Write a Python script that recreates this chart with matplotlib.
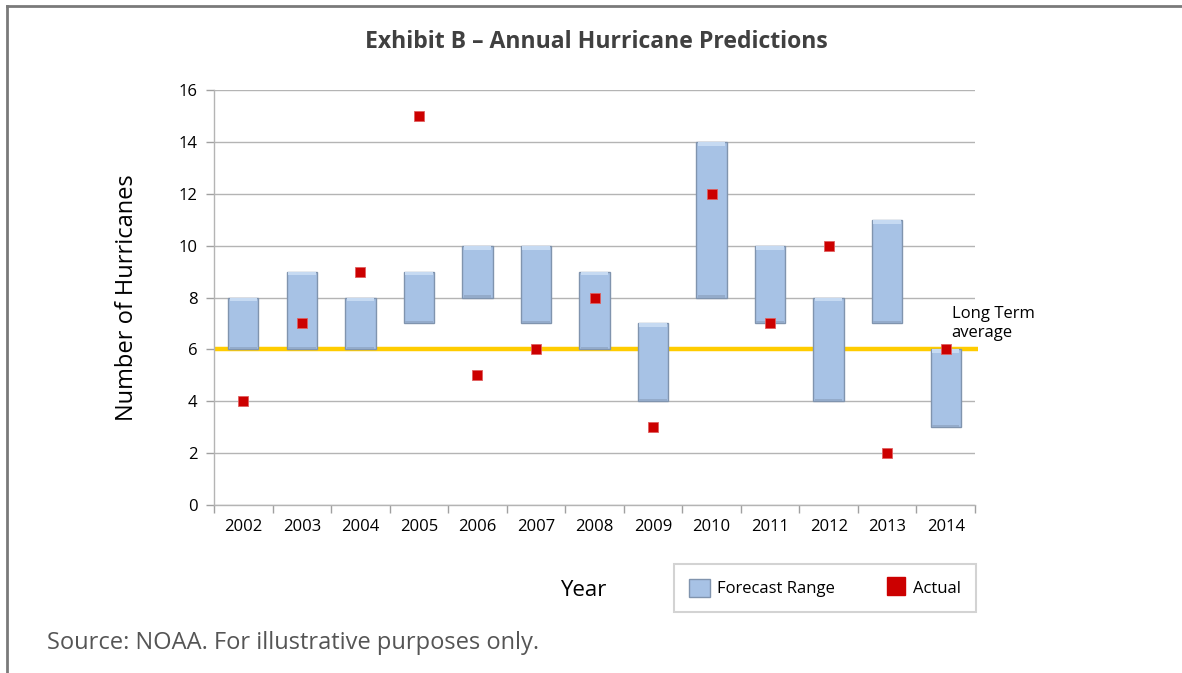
import numpy as np
import matplotlib.pyplot as plt
from matplotlib.patches import Rectangle
from matplotlib.lines import Line2D

plt.rcParams["font.family"] = ["Open Sans", "DejaVu Sans"]

years = ['2002', '2003', '2004', '2005', '2006', '2007', '2008',
         '2009', '2010', '2011', '2012', '2013', '2014']
forecast_low = [6, 6, 6, 7, 8, 7, 6, 4, 8, 7, 4, 7, 3]
forecast_high = [8, 9, 8, 9, 10, 10, 9, 7, 14, 10, 8, 11, 6]
actual = [4, 7, 9, 15, 5, 6, 8, 3, 12, 7, 10, 2, 6]
long_term_avg = 6

fig = plt.figure(figsize=(11.82, 6.73), dpi=100)
ax = fig.add_axes([214/1182, 1-505/673, (975-214)/1182, (505-90)/673])

x = np.arange(len(years))
lo = np.array(forecast_low)
hi = np.array(forecast_high)

# long term average line (behind the bars)
ax.plot([-0.5, len(years) - 0.45], [long_term_avg]*2, color='#ffcc00', lw=3.2,
        zorder=2, clip_on=False, solid_capstyle='butt')

bw = 0.52
ax.bar(x, hi - lo, bottom=lo, width=bw, color='#a7c2e5', edgecolor='#8094ae',
       linewidth=1.0, zorder=3)
# bevel highlight at the top of each bar
ax.bar(x, np.full(len(x), 0.15), bottom=hi - 0.15, width=bw*0.9,
       color='#c6daf2', linewidth=0, zorder=4)
ax.bar(x, np.full(len(x), 0.1), bottom=lo, width=bw*0.9,
       color='#94abca', linewidth=0, zorder=4)

ax.plot(x, actual, linestyle='none', marker='s', markersize=7.5,
        color='#cc0000', markeredgecolor='#e06060', markeredgewidth=0.6, zorder=5)

ax.set_xlim(-0.5, len(years) - 0.5)
ax.set_ylim(0, 16)
ax.set_yticks(range(0, 17, 2))
ax.set_xticks(x)
ax.set_xticklabels(years)
ax.set_xticks(np.arange(-0.5, len(years)), minor=True)
ax.tick_params(axis='x', which='major', length=0, pad=10, labelsize=12)
ax.tick_params(axis='x', which='minor', length=6, color='#a0a0a0', width=1)
ax.tick_params(axis='y', length=6, color='#a0a0a0', width=1, labelsize=12, pad=6)
ax.yaxis.grid(True, color='#b4b4b4', lw=1)
ax.set_axisbelow(True)
for s in ['top', 'right']:
    ax.spines[s].set_visible(False)
for s in ['left', 'bottom']:
    ax.spines[s].set_color('#b4b4b4')
    ax.spines[s].set_linewidth(1)

ax.set_ylabel("Number of Hurricanes", fontsize=17, labelpad=28)

ax.text(12.1, 7.0, "Long Term\naverage", fontsize=12, ha='left', va='center',
        linespacing=1.3)

fig.text(596/1182, 1-42/673, "Exhibit B \u2013 Annual Hurricane Predictions",
         ha='center', va='center', fontsize=16.6, fontweight='bold', color='#404040')
fig.text(583/1182, 1-590/673, "Year", ha='center', va='center', fontsize=16)
fig.text(47/1182, 1-643/673, "Source: NOAA. For illustrative purposes only.",
         ha='left', va='center', fontsize=17, color='#555555')

handles = [Rectangle((0, 0), 1, 1, facecolor='#a7c2e5', edgecolor='#8094ae'),
           Line2D([], [], linestyle='none', marker='s', markersize=13, color='#cc0000')]
leg = fig.legend(handles, ['Forecast Range', 'Actual'], ncol=2,
                 loc='center', bbox_to_anchor=(825/1182, 1-588/673),
                 fontsize=12, frameon=True, fancybox=False, edgecolor='#c8c8c8',
                 handlelength=1.3, handleheight=1.3, columnspacing=3.0,
                 borderpad=0.9, handletextpad=0.4)
leg.get_frame().set_linewidth(1.5)

# outer border (top and left)
fig.add_artist(Line2D([7/1182, 1], [1-6/673]*2, color='#7a7a7a', lw=2))
fig.add_artist(Line2D([7/1182]*2, [0, 1-6/673], color='#7a7a7a', lw=2))

fig.savefig("out.png", dpi=100)
